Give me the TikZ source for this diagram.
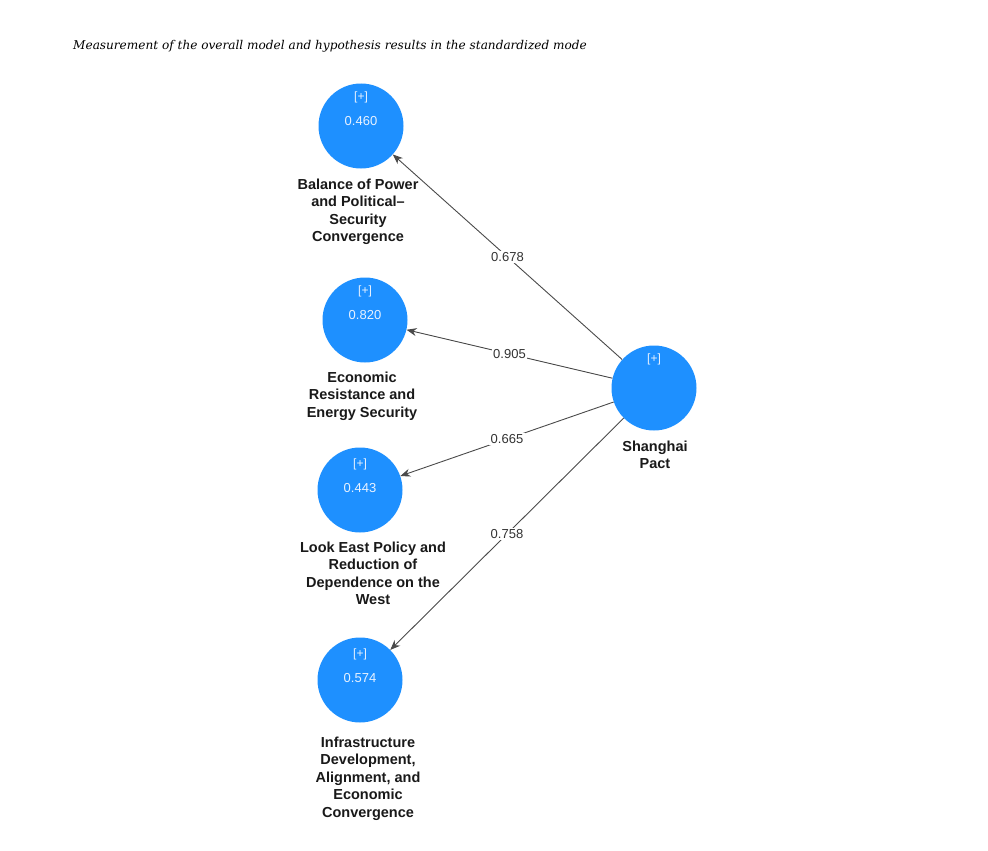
\documentclass[tikz,border=0pt]{standalone}
\usepackage{fontspec}
\setmainfont{Liberation Sans}
\newfontfamily\titlefont{DejaVu Serif}
\usetikzlibrary{arrows.meta}
\definecolor{cblue}{HTML}{1E90FF}
\definecolor{ctxt}{HTML}{E8F2FF}
\definecolor{edgec}{HTML}{4A4A4A}
\begin{document}
\begin{tikzpicture}[x=1pt,y=-1pt,
  lv/.style={circle,fill=cblue,minimum size=85pt,inner sep=0pt},
  plus/.style={font=\fontsize{12}{13}\selectfont,text=ctxt},
  val/.style={font=\fontsize{13}{14}\selectfont,text=ctxt},
  lab/.style={font=\bfseries\fontsize{14.5}{17.5}\selectfont,align=center,text=black!90},
  path/.style={draw=edgec,line width=0.9pt,-{Stealth[length=10pt,width=8pt]}},
  coef/.style={fill=white,inner sep=1.5pt,font=\fontsize{13}{14}\selectfont,text=black!80}]
\useasboundingbox (0,0) rectangle (988,851);
\node[anchor=west,inner sep=0pt,font=\titlefont\itshape\fontsize{12.1}{14}\selectfont] (title) at (73,46) {Measurement of the overall model and hypothesis results in the standardized mode};
% latent variables
\node[lv] (c1) at (361,126) {};
\node[lv] (c2) at (365,320) {};
\node[lv] (c3) at (360,490) {};
\node[lv] (c4) at (360,680) {};
\node[lv] (sp) at (654,388) {};
% inner texts
\node[plus] (p1) at (361,97) {[+]};
\node[val] (v1) at (361,121) {0.460};
\node[plus] (p2) at (365,291) {[+]};
\node[val] (v2) at (365,315) {0.820};
\node[plus] (p3) at (360,464) {[+]};
\node[val] (v3) at (360,488) {0.443};
\node[plus] (p4) at (360,654) {[+]};
\node[val] (v4) at (360,678) {0.574};
\node[plus] (p5) at (654,359) {[+]};
% labels
\node[lab,anchor=north] (l1) at (358,175) {Balance of Power\\and Political--\\Security\\Convergence};
\node[lab,anchor=north] (l2) at (362,368) {Economic\\Resistance and\\Energy Security};
\node[lab,anchor=north] (l3) at (373,538) {Look East Policy and\\Reduction of\\Dependence on the\\West};
\node[lab,anchor=north] (l4) at (368,733) {Infrastructure\\Development,\\Alignment, and\\Economic\\Convergence};
\node[lab,anchor=north] (l5) at (655,437) {Shanghai\\Pact};
% paths
\draw[path] (sp) -- node[coef] (e1) {0.678} (c1);
\draw[path] (sp) -- node[coef] (e2) {0.905} (c2);
\draw[path] (sp) -- node[coef] (e3) {0.665} (c3);
\draw[path] (sp) -- node[coef] (e4) {0.758} (c4);
\end{tikzpicture}
\end{document}
